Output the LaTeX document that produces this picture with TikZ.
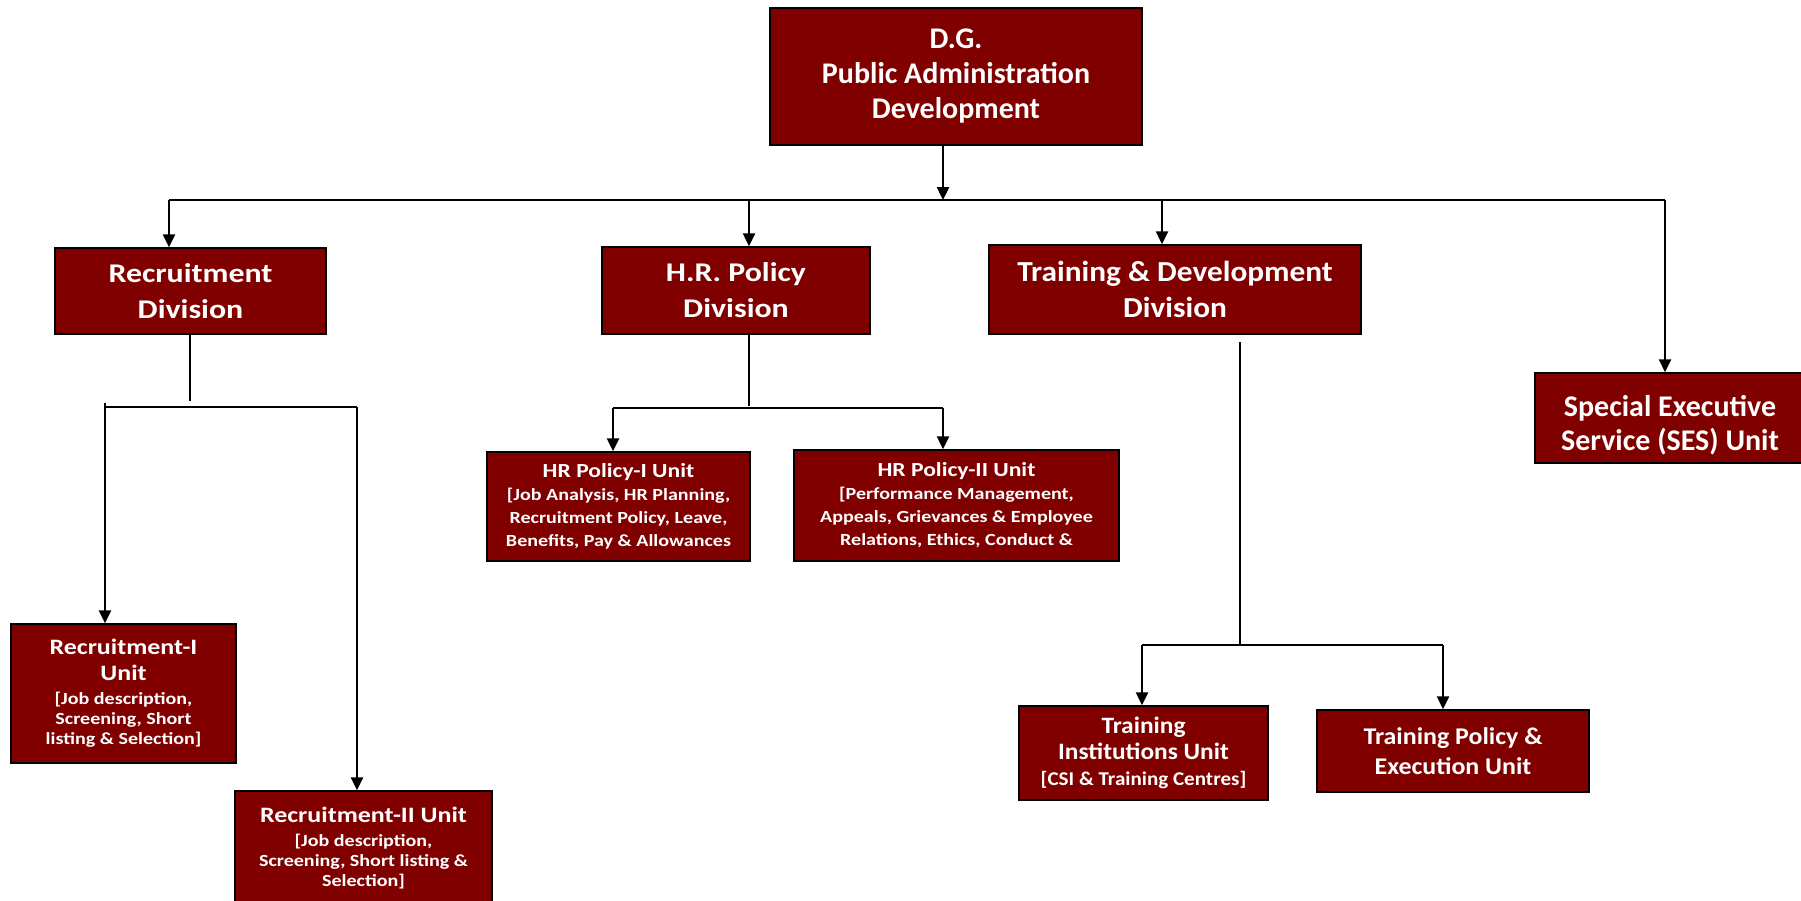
\documentclass[tikz,border=0pt]{standalone}
\usepackage{fontspec}
\setmainfont{Carlito}
\newfontfamily\gill{Carlito}[FakeStretch=1.18]
\newfontfamily\gillc{Carlito}[FakeStretch=1.08]
\usetikzlibrary{arrows.meta,calc}
\definecolor{boxred}{HTML}{800000}
\newcommand{\fs}[2]{\fontsize{#1}{#2}\selectfont}
\tikzset{
  orgbox/.style={draw=black, line width=1.5pt, fill=boxred, text=white, align=center, inner sep=0pt},
  conn/.style={draw=black, line width=2.5pt},
  arr/.style={conn, -{Triangle[length=13pt,width=12pt]}}
}
\newcommand{\sub}{\gill\bfseries\fs{17}{20}}
\newcommand{\subh}{\gill\bfseries\fs{17}{23}}
\begin{document}
\begin{tikzpicture}[x=1pt,y=-1pt]
\useasboundingbox (0,0) rectangle (1801,900);
% boxes
\node[orgbox, minimum width=372pt, minimum height=137pt, font=\bfseries\fs{30}{35}] (dg) at (956,76.5)
  {D.G.\\Public Administration\\Development};
\node[orgbox, minimum width=271pt, minimum height=86pt, font=\gill\bfseries\fs{27}{36}] (rec) at (190.5,291)
  {Recruitment\\Division};
\node[orgbox, minimum width=268pt, minimum height=87pt, font=\gill\bfseries\fs{27}{36}] (hr) at (736,290.5)
  {H.R. Policy\\Division};
\node[orgbox, minimum width=372pt, minimum height=89pt, font=\gillc\bfseries\fs{29}{36}] (trn) at (1175,289.5)
  {Training \& Development\\Division};
\node[orgbox, minimum width=270pt, minimum height=90pt] (ses) at (1670,418) {};
\node[text=white, align=center, inner sep=0pt, font=\bfseries\fs{30}{34}] (sesT) at ($(ses.center)+(0,7)$)
  {Special Executive\\Service (SES) Unit};
\node[orgbox, minimum width=225pt, minimum height=139pt, font=\gill\bfseries\fs{22}{26}] (rec1) at (123.5,693.5)
  {Recruitment-I\\Unit\\[-2pt]\sub[Job description,\\[-6pt]\sub Screening, Short\\[-6pt]\sub listing \& Selection]};
\node[orgbox, minimum width=257pt, minimum height=114pt, font=\gill\bfseries\fs{22}{26}] (rec2) at (363.5,848)
  {Recruitment-II Unit\\[-2pt]\sub[Job description,\\[-6pt]\sub Screening, Short listing \&\\[-6pt]\sub Selection]};
\node[orgbox, minimum width=263pt, minimum height=109pt, font=\gill\bfseries\fs{20}{23}] (hr1) at (618.5,506.5)
  {HR Policy-I Unit\\\subh[Job Analysis, HR Planning,\\\subh Recruitment Policy, Leave,\\\subh Benefits, Pay \& Allowances};
\node[orgbox, minimum width=325pt, minimum height=111pt, font=\gill\bfseries\fs{20}{23}] (hr2) at (956.5,505.5)
  {HR Policy-II Unit\\\subh[Performance Management,\\\subh Appeals, Grievances \& Employee\\\subh Relations, Ethics, Conduct \&};
\node[orgbox, minimum width=249pt, minimum height=94pt, font=\gillc\bfseries\fs{23.5}{26}] (tin) at (1143.5,753)
  {Training\\Institutions Unit\\\gillc\bfseries\fs{19.5}{25}[CSI \& Training Centres]};
\node[orgbox, minimum width=272pt, minimum height=82pt, font=\gillc\bfseries\fs{24}{30}] (tpe) at (1453,751)
  {Training Policy \&\\Execution Unit};
% coordinates
\coordinate (b0) at (943,200);
\coordinate (bL) at (169,200);
\coordinate (bH) at (749,200);
\coordinate (bT) at (1162,200);
\coordinate (bR) at (1665,200);
\coordinate (rj) at (190,401);
\coordinate (rL) at (105,407);
\coordinate (rLt) at (105,403);
\coordinate (rR) at (357,407);
\coordinate (hj) at (749,406);
\coordinate (hL) at (613,408);
\coordinate (hR) at (943,408);
\coordinate (tj0) at (1240,342);
\coordinate (tj) at (1240,645);
\coordinate (tL) at (1142,645);
\coordinate (tR) at (1443,645);
% top level
\draw[arr] (dg.south -| b0) -- (b0);
\draw[conn] (bL) -- (bR);
\draw[arr] (bL) -- (bL |- rec.north);
\draw[arr] (bH) -- (bH |- hr.north);
\draw[arr] (bT) -- (bT |- trn.north);
\draw[arr] (bR) -- (bR |- ses.north);
% recruitment
\draw[conn] (rj |- rec.south) -- (rj);
\draw[conn] (rLt) -- (rL) -- (rR);
\draw[arr] (rL) -- (rL |- rec1.north);
\draw[arr] (rR) -- (rR |- rec2.north);
% hr
\draw[conn] (hj |- hr.south) -- (hj);
\draw[conn] (hL) -- (hR);
\draw[arr] (hL) -- (hL |- hr1.north);
\draw[arr] (hR) -- (hR |- hr2.north);
% training
\draw[conn] (tj0) -- (tj);
\draw[conn] (tL) -- (tR);
\draw[arr] (tL) -- (tL |- tin.north);
\draw[arr] (tR) -- (tR |- tpe.north);
\end{tikzpicture}
\end{document}
